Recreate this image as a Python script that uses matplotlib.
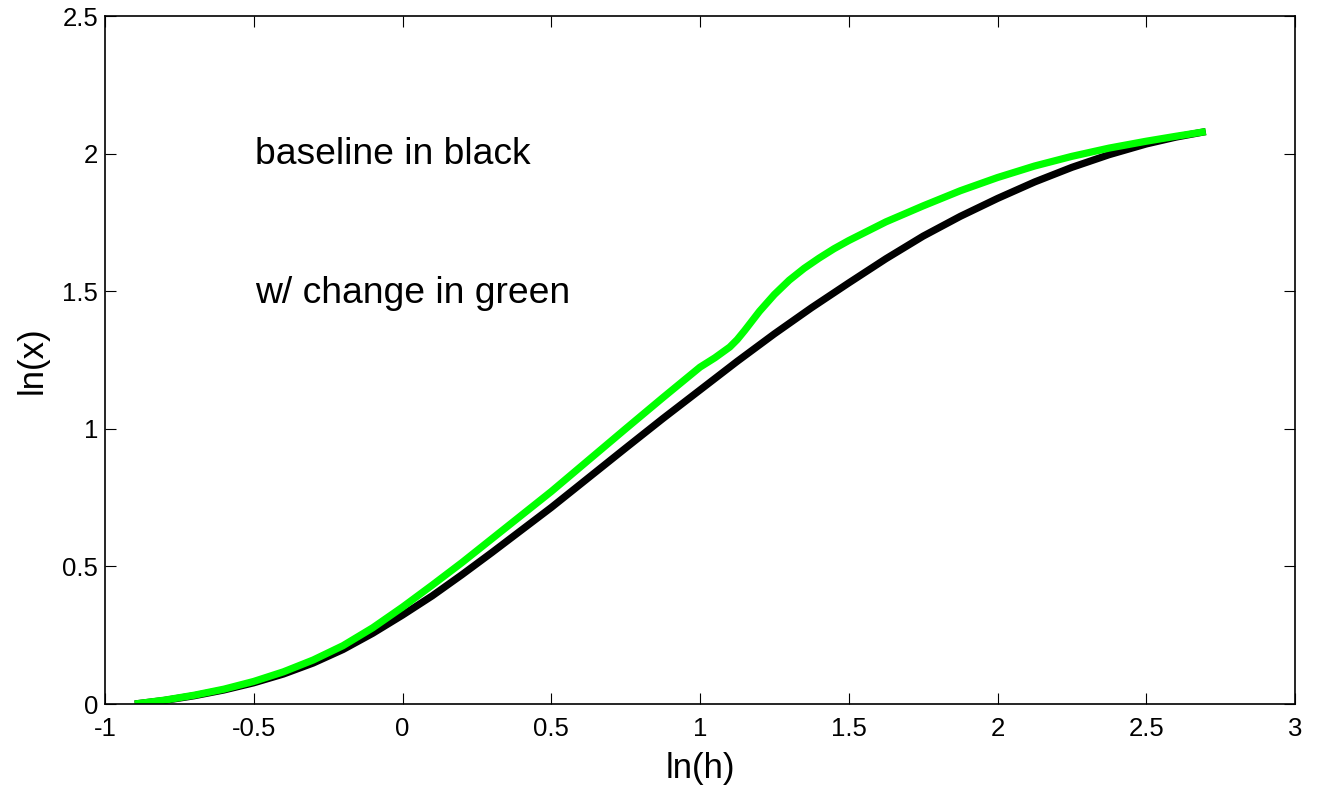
import matplotlib
matplotlib.use("Agg")
import matplotlib.pyplot as plt

plt.rcParams['font.family'] = ['Liberation Sans', 'DejaVu Sans']

# Baseline curve (black)
base_lnh = [-0.9, -0.8, -0.7, -0.6, -0.5, -0.4, -0.3, -0.2, -0.1, 0.0, 0.1, 0.2, 0.3, 0.4, 0.5,
            0.625, 0.75, 0.875, 1.0, 1.125, 1.25, 1.375, 1.5, 1.625, 1.75, 1.875,
            2.0, 2.125, 2.25, 2.375, 2.5, 2.6, 2.7]
base_lnx = [0.0, 0.013, 0.03, 0.051, 0.077, 0.109, 0.149, 0.198, 0.257, 0.323, 0.393, 0.47, 0.55, 0.632, 0.714,
            0.822, 0.93, 1.037, 1.141, 1.245, 1.345, 1.44, 1.53, 1.618, 1.70, 1.772,
            1.837, 1.897, 1.95, 1.996, 2.035, 2.06, 2.08]

# Curve with change (green)
chg_lnh = [-0.9, -0.8, -0.7, -0.6, -0.5, -0.4, -0.3, -0.2, -0.1, 0.0, 0.1, 0.2, 0.3, 0.4, 0.5,
           0.625, 0.75, 0.875, 1.0, 1.05, 1.1, 1.125, 1.15, 1.175, 1.2, 1.25, 1.3, 1.35, 1.4, 1.45, 1.5,
           1.625, 1.75, 1.875, 2.0, 2.125, 2.25, 2.375, 2.5, 2.6, 2.7]
chg_lnx = [0.0, 0.014, 0.032, 0.054, 0.082, 0.117, 0.16, 0.212, 0.277, 0.352, 0.432, 0.514, 0.6, 0.686, 0.772,
           0.886, 1.0, 1.113, 1.224, 1.258, 1.297, 1.324, 1.357, 1.392, 1.427, 1.488, 1.54, 1.583, 1.62, 1.654, 1.684,
           1.752, 1.81, 1.865, 1.913, 1.955, 1.99, 2.02, 2.045, 2.063, 2.08]

xticks = [-1, -0.5, 0, 0.5, 1, 1.5, 2, 2.5, 3]
xtick_labels = ['-1', '-0.5', '0', '0.5', '1', '1.5', '2', '2.5', '3']
yticks = [0, 0.5, 1, 1.5, 2, 2.5]
ytick_labels = ['0', '0.5', '1', '1.5', '2', '2.5']

fig = plt.figure(figsize=(13.17, 7.91), dpi=100)
ax = fig.add_axes([105/1317, 87/791, 1190/1317, 688/791])

ax.plot(base_lnh, base_lnx, color='black', lw=5.2, solid_capstyle='butt', solid_joinstyle='round')
ax.plot(chg_lnh, chg_lnx, color='#00ff00', lw=5.2, solid_capstyle='butt', solid_joinstyle='round')

ax.set_xlim(-1, 3)
ax.set_ylim(0, 2.5)
ax.set_xticks(xticks)
ax.set_xticklabels(xtick_labels)
ax.set_yticks(yticks)
ax.set_yticklabels(ytick_labels)
ax.tick_params(direction='in', length=8, width=0.8, top=True, right=True,
               labelsize=18.5)
ax.tick_params(axis='x', pad=9)
ax.tick_params(axis='y', pad=5)
for s in ax.spines.values():
    s.set_linewidth(1.2)

ax.set_xlabel('ln(h)', fontsize=25, labelpad=8)
ax.set_ylabel('ln(x)', fontsize=25, labelpad=10)

ax.text(-0.497, 1.995, 'baseline in black', fontsize=26.8, va='center', ha='left')
ax.text(-0.497, 1.49, 'w/ change in green', fontsize=26.8, va='center', ha='left')

fig.savefig('out.png', dpi=100)
